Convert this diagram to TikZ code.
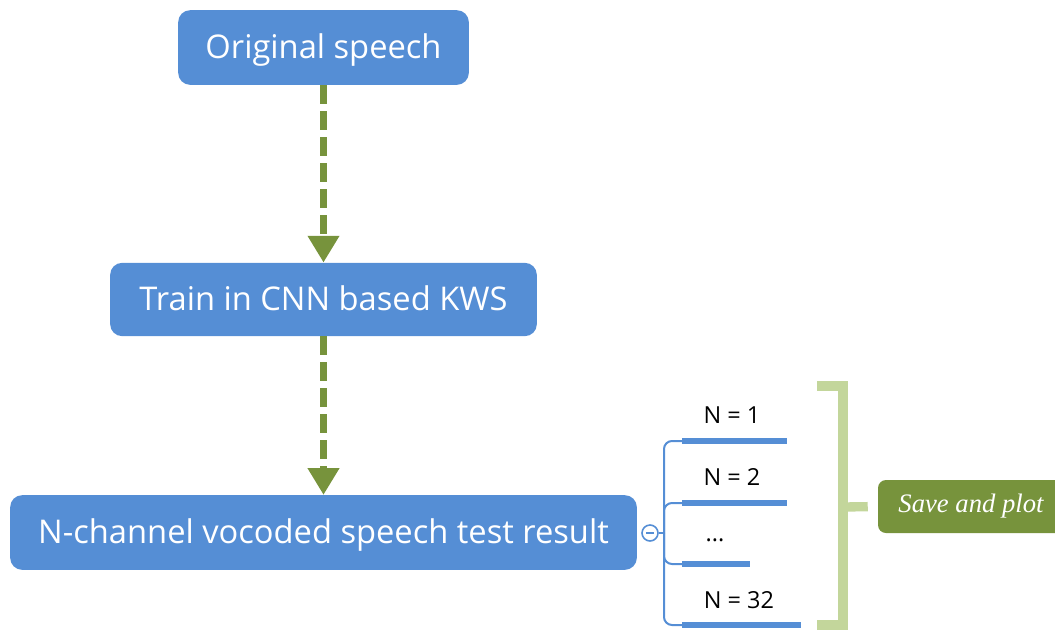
\documentclass[tikz,border=0pt]{standalone}
\usepackage{fontspec}
\setmainfont{Open Sans}
\newfontfamily\notefont{Liberation Serif}
\usepackage{tikz}
\usetikzlibrary{arrows.meta, positioning}
\definecolor{myblue}{RGB}{85,142,213}
\definecolor{mygreen}{RGB}{119,147,60}
\definecolor{mylightgreen}{RGB}{195,214,155}
\tikzset{
  stepbox/.style={rectangle, fill=myblue, text=white, align=center,
    rounded corners=9pt, inner sep=0pt, text height=18pt, text depth=1.8pt,
    font=\fontsize{24.5}{28}\selectfont},
  notebox/.style={rectangle, fill=mygreen, text=white, align=center,
    rounded corners=6pt, inner sep=0pt,
    font=\notefont\itshape\fontsize{20}{24}\selectfont},
  foldmark/.style={circle, draw=myblue, fill=white, line width=1.2pt,
    minimum size=12pt, inner sep=0pt},
  caselabel/.style={font=\fontsize{17.6}{21}\selectfont, inner sep=0pt},
  flow/.style={-{Triangle[length=20pt, width=22.5pt]}, color=mygreen,
    line width=5.25pt, dash pattern=on 14pt off 5.5pt},
  branch/.style={color=myblue, line width=1.5pt, rounded corners=6pt},
  bar/.style={color=myblue, line width=4.5pt},
  bracket/.style={color=mylightgreen, line width=7pt}
}

\begin{document}
\begin{tikzpicture}[x=0.75pt, y=-0.75pt]
  \useasboundingbox (0,0) rectangle (1055,629);

  % Flow boxes
  \node[stepbox, minimum width=218pt, minimum height=56pt] (orig) at (323.5,47.5) {Original speech};
  \node[stepbox, minimum width=320pt, minimum height=55pt] (train) at (323.5,299.5) {Train in CNN based KWS};
  \node[stepbox, minimum width=470pt, minimum height=56pt] (test) at (323.5,532.5) {N-channel vocoded speech test result};

  % Dashed arrows
  \draw[flow] (orig.south) -- (train.north);
  \draw[flow] (train.south) -- (test.north);

  % Channel cases
  \node[foldmark] (fold) at (650,533) {};
  \draw[myblue, line width=1.2pt] ([xshift=-3pt]fold.center) -- ([xshift=3pt]fold.center);
  \coordinate (split) at (664,533);
  \draw[myblue, line width=1.5pt] (fold.east) -- (split);

  \node[caselabel] (n1) at (732,415) {N = 1};
  \node[caselabel] (n2) at (732,477) {N = 2};
  \node[caselabel] (ndots) at (715,540) {...};
  \node[caselabel] (n32) at (739,600) {N = 32};

  \coordinate (n1l) at (682,441);   \coordinate (n1r) at (787,441);
  \coordinate (n2l) at (682,503);   \coordinate (n2r) at (787,503);
  \coordinate (ndl) at (682,564);   \coordinate (ndr) at (750,564);
  \coordinate (n32l) at (682,625);  \coordinate (n32r) at (801,625);

  \draw[branch] (split) |- (n1l);
  \draw[branch] (split) |- (n2l);
  \draw[branch] (split) |- (ndl);
  \draw[branch] (split) |- (n32l);

  \draw[bar] (n1l) -- (n1r);
  \draw[bar] (n2l) -- (n2r);
  \draw[bar] (ndl) -- (ndr);
  \draw[bar] (n32l) -- (n32r);

  % Bracket and result
  \node[notebox, minimum width=139.5pt, minimum height=39.75pt] (save) at (971,506.5) {Save and plot};
  \coordinate (brtop) at (817,386);
  \coordinate (brbot) at (817,625);
  \coordinate (brmid) at (843,507);
  \draw[bracket] (brtop) -- (843,386) -- (843,625) -- (brbot);
  \draw[bracket, shorten >=7.5pt] (brmid) -- (save.west);
\end{tikzpicture}
\end{document}
